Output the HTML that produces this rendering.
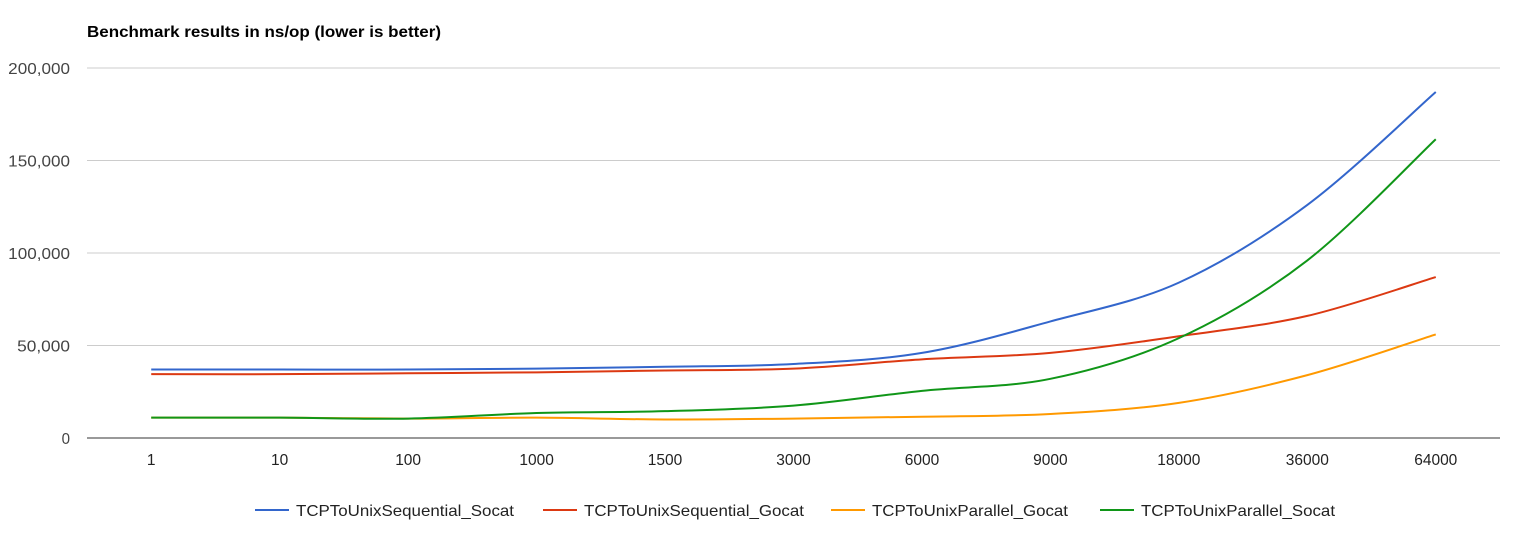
<!DOCTYPE html>
<html><head><meta charset="utf-8"><style>
body{margin:0;background:#fff;width:1530px;height:533px;overflow:hidden;font-family:"Liberation Sans",Arial,sans-serif;}
</style></head><body>
<svg id="chart" width="1530" height="533" xmlns="http://www.w3.org/2000/svg" font-family="Liberation Sans, Arial, sans-serif">
<text x="87" y="37" font-size="16" font-weight="bold" fill="#000" textLength="354" lengthAdjust="spacingAndGlyphs">Benchmark results in ns/op (lower is better)</text>
<g id="grid"></g><g id="lines"></g><g id="legend"></g>
</svg>
<script>
const categories=["1","10","100","1000","1500","3000","6000","9000","18000","36000","64000"];
const yTicks=[0,50000,100000,150000,200000];
const yTickLabels=["0","50,000","100,000","150,000","200,000"];
const seriesNames=["TCPToUnixSequential_Socat","TCPToUnixSequential_Gocat","TCPToUnixParallel_Gocat","TCPToUnixParallel_Socat"];
const seqSocat=[37000,37000,37000,37500,38500,40000,46000,63000,84000,126000,187000];
const seqGocat=[34500,34500,35000,35500,36500,37500,42500,46000,55000,66000,87000];
const parGocat=[11000,11000,10500,11000,10000,10500,11500,13000,19000,34000,56000];
const parSocat=[11000,11000,10500,13500,14500,17500,25500,32000,54000,96000,161500];
const colors=["#3366cc","#dc3912","#ff9900","#109618"];
const NS="http://www.w3.org/2000/svg";
const L=87,R=1500,T=68,B=438,yMax=200000;
const step=(R-L)/categories.length;
const xs=i=>L+step*(i+0.5);
const ys=v=>B-(v/yMax)*(B-T);
function mk(tag,attrs,parent){const e=document.createElementNS(NS,tag);for(const k in attrs)e.setAttribute(k,attrs[k]);parent.appendChild(e);return e;}
const grid=document.getElementById('grid');
yTicks.forEach((v,i)=>{
  const ln=mk('line',{x1:L,x2:R,y1:ys(v),y2:ys(v),stroke:v===0?'#333':'#ccc','stroke-width':1},grid);
  
  
  const lab=yTickLabels[i];
  const t=mk('text',{x:70,y:ys(v)+6,'text-anchor':'end','font-size':16,fill:'#444',textLength:lab.length*8.9-0.5,lengthAdjust:'spacingAndGlyphs'},grid);
  t.textContent=lab;
  
  
});
categories.forEach((c,i)=>{
  const t=mk('text',{x:xs(i),y:465,'text-anchor':'middle','font-size':15.5,fill:'#222'},grid);
  t.textContent=c;
  
  
});
function smooth(pts){
  let d=`M${pts[0][0]},${pts[0][1]}`;
  for(let i=0;i<pts.length-1;i++){
    const p0=pts[i-1]||pts[i],p1=pts[i],p2=pts[i+1],p3=pts[i+2]||p2;
    const c1=[p1[0]+(p2[0]-p0[0])/6,p1[1]+(p2[1]-p0[1])/6];
    const c2=[p2[0]-(p3[0]-p1[0])/6,p2[1]-(p3[1]-p1[1])/6];
    d+=` C${c1[0]},${c1[1]} ${c2[0]},${c2[1]} ${p2[0]},${p2[1]}`;
  }
  return d;
}
const lines=document.getElementById('lines');
const all=[seqSocat,seqGocat,parGocat,parSocat];
const ids=["line-seq-socat","line-seq-gocat","line-par-gocat","line-par-socat"];
all.forEach((s,k)=>{
  const p=mk('path',{d:smooth(s.map((v,i)=>[xs(i),ys(v)])),fill:'none',stroke:colors[k],'stroke-width':2},lines);
  
  
});
const legend=document.getElementById('legend');
const lx=[255,543,831,1100];
const lw=[218,220,196,194];
seriesNames.forEach((n,k)=>{
  const g=mk('g',{},legend);
  
  
  mk('line',{x1:lx[k],x2:lx[k]+34,y1:510,y2:510,stroke:colors[k],'stroke-width':2},g);
  const t=mk('text',{x:lx[k]+41,y:516,'font-size':16,fill:'#222',textLength:lw[k],lengthAdjust:'spacingAndGlyphs'},g);
  t.textContent=n;
});
</script>
</body></html>
